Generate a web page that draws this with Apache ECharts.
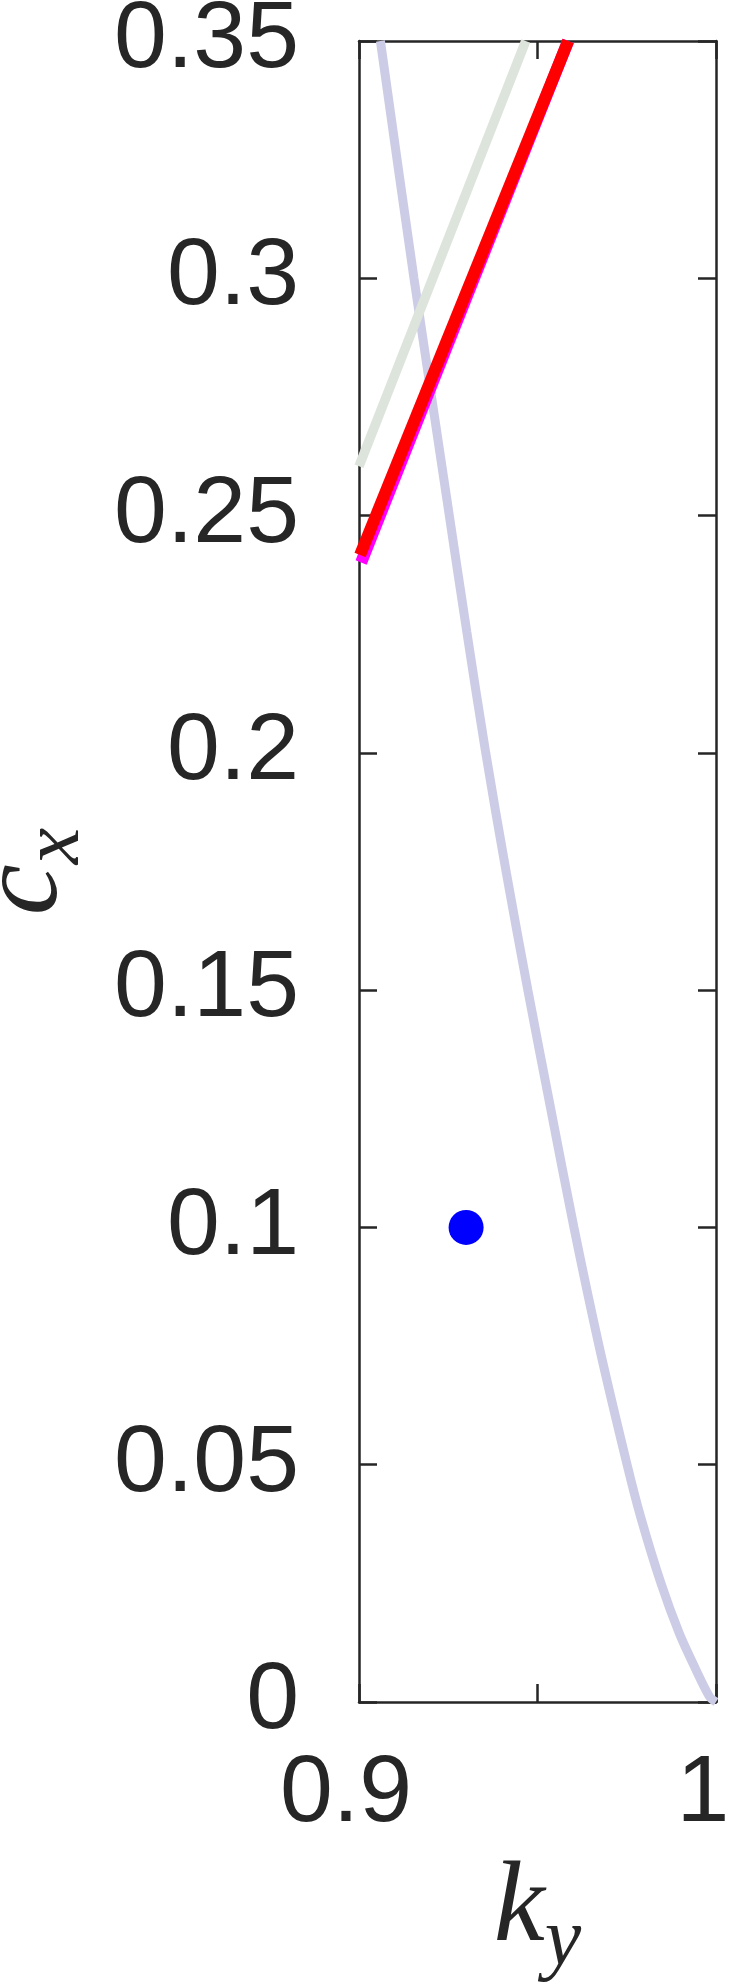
<!DOCTYPE html>
<html>
<head>
<meta charset="utf-8">
<script src="https://cdn.jsdelivr.net/npm/echarts@6/dist/echarts.min.js"></script>
<style>
  html, body { margin: 0; padding: 0; background: #fff; }
  #chart { width: 739px; height: 1988px; }
</style>
</head>
<body>
<div id="chart"></div>
<script>
// axis ticks
const kyTicks = [0.9, 0.95, 1.0];
const kyTickLabels = ["0.9", "", "1"];
const cxTicks = [0, 0.05, 0.1, 0.15, 0.2, 0.25, 0.3, 0.35];
const cxTickLabels = ["0", "0.05", "0.1", "0.15", "0.2", "0.25", "0.3", "0.35"];

// lavender curve
const kyLavender = [0.9060, 0.9154, 0.9253, 0.9302, 0.9355, 0.9413, 0.9473, 0.9536, 0.9602, 0.9674, 0.9751, 0.9789, 0.9846, 0.9897, 0.9940, 0.9982, 1.0];
const cxLavender = [0.35, 0.30, 0.25, 0.2255, 0.20, 0.1746, 0.15, 0.1254, 0.10, 0.0745, 0.05, 0.039, 0.025, 0.0145, 0.0074, 0.0011, 0];

// pale grey-green line
const kyGrey = [0.9, 0.9467];
const cxGrey = [0.2604, 0.35];

// magenta line (mostly hidden under red)
const kyMagenta = [0.9006, 0.9586];
const cxMagenta = [0.2401, 0.35];

// red line
const kyRed = [0.9003, 0.9586];
const cxRed = [0.2417, 0.35];

// blue point
const kyDot = [0.93];
const cxDot = [0.1];

const INK = "#262626";

function pairs(xs, ys) {
  return xs.map((x, i) => [x, ys[i]]);
}

function tickText(ticks, labels) {
  return (v) => {
    const i = ticks.findIndex((t) => Math.abs(t - v) < 1e-9);
    return i >= 0 ? labels[i] : "";
  };
}

const lineSeries = (name, xs, ys, color, width, smooth) => ({
  name,
  type: "line",
  data: pairs(xs, ys),
  showSymbol: false,
  smooth: smooth || false,
  lineStyle: { color, width, cap: "butt", opacity: 1 },
  silent: true,
});

const baseAxis = {
  type: "value",
  axisLine: { show: true, onZero: false, lineStyle: { color: INK, width: 2.5 } },
  axisTick: { show: true, inside: true, length: 18, lineStyle: { color: INK, width: 2.5 } },
  splitLine: { show: false },
};

const labelFont = { fontFamily: "Liberation Sans", fontSize: 95, color: INK };
const mathFont = { fontFamily: "Liberation Serif", fontStyle: "italic", color: INK };

const chart = echarts.init(document.getElementById("chart"), null, { renderer: "canvas" });
chart.setOption({
  animation: false,
  backgroundColor: "#fff",
  grid: { left: 359, top: 41, width: 357, height: 1661, containLabel: false, outerBoundsMode: "none" },
  xAxis: [
    {
      ...baseAxis,
      position: "bottom",
      min: 0.9,
      max: 1.0,
      interval: 0.05,
      axisLabel: { ...labelFont, margin: 45, padding: [0, 26, 0, 0], formatter: tickText(kyTicks, kyTickLabels) },
      name: "{k|k}{s|y}",
      nameLocation: "middle",
      nameGap: 150,
      nameTextStyle: {
        rich: {
          k: { ...mathFont, fontSize: 115, verticalAlign: "bottom", padding: [0, 0, 16, 0] },
          s: { ...mathFont, fontSize: 82, verticalAlign: "bottom" },
        },
      },
    },
    {
      ...baseAxis,
      position: "top",
      min: 0.9,
      max: 1.0,
      interval: 0.05,
      axisLabel: { show: false },
    },
  ],
  yAxis: [
    {
      ...baseAxis,
      position: "left",
      min: 0,
      max: 0.35,
      interval: 0.05,
      axisLabel: { ...labelFont, margin: 60, formatter: tickText(cxTicks, cxTickLabels) },
      name: "{c|c}{s|x}",
      nameLocation: "middle",
      nameRotate: 90,
      nameGap: 262,
      nameTextStyle: {
        rich: {
          c: { ...mathFont, fontSize: 115, verticalAlign: "bottom", padding: [0, 0, 14, 0] },
          s: { ...mathFont, fontSize: 82, verticalAlign: "bottom" },
        },
      },
    },
    {
      ...baseAxis,
      position: "right",
      min: 0,
      max: 0.35,
      interval: 0.05,
      axisLabel: { show: false },
    },
  ],
  series: [
    lineSeries("lavender", kyLavender, cxLavender, "#cccce6", 9, 0.3),
    lineSeries("grey", kyGrey, cxGrey, "#dce4dc", 9.5),
    lineSeries("magenta", kyMagenta, cxMagenta, "#ff00ff", 12),
    lineSeries("red", kyRed, cxRed, "#ff0000", 12),
    {
      name: "point",
      type: "scatter",
      data: pairs(kyDot, cxDot),
      symbol: "circle",
      symbolSize: 35,
      itemStyle: { color: "#0000ff", opacity: 1 },
      silent: true,
      z: 5,
    },
  ],
});
</script>
</body>
</html>
